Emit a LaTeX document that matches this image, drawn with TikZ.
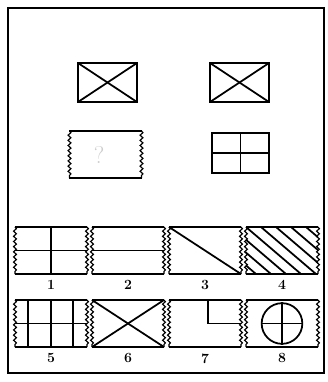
\documentclass[tikz,border=0pt]{standalone}
\usetikzlibrary{positioning, decorations.pathmorphing}
\tikzset{
  every picture/.style={line width=1.1pt},
  card/.style={minimum width=2.16cm, minimum height=1.41cm, inner sep=0pt, outer sep=0pt},
  frame/.style={draw, line width=1.9pt, inner sep=0pt, outer sep=0pt},
  rim/.style={line width=2pt},
  wavy/.style={decorate, decoration={snake, segment length=4.4pt, amplitude=1.2pt}, line width=1pt},
  stroke/.style={line width=1.5pt},
  num/.style={font=\large\bfseries, inner sep=1pt},
}
\begin{document}
\begin{tikzpicture}[x=0.03cm, y=-0.03cm]
  \useasboundingbox[fill=white] (0,0) rectangle (327,382);
  \draw[line width=1.6pt] (8,8) rectangle (324,373);
  % top pair
  \node[frame, minimum width=1.77cm, minimum height=1.17cm] (q1) at (107.5,82.5) {};
  \node[frame, minimum width=1.77cm, minimum height=1.17cm] (q2) at (239.5,82.5) {};
  \foreach \q in {q1,q2} {
    \draw[stroke] (\q.north west) -- (\q.south east);
    \draw[stroke] (\q.south west) -- (\q.north east);
  }
  % second pair
  \node[card] (q3) at (105.5,154.5) {};
  \draw[rim] (q3.north west) -- (q3.north east); \draw[rim] (q3.south west) -- (q3.south east);
  \draw[wavy] (q3.north west) -- (q3.south west); \draw[wavy] (q3.north east) -- (q3.south east);
  \node[font=\huge, text=black!20, left=-0.1cm of q3.center] (ask) {?};
  \node[frame, minimum width=1.71cm, minimum height=1.2cm] (q4) at (240.5,153) {};
  \draw[stroke] (q4.north) -- (q4.south); \draw[stroke] (q4.west) -- (q4.east);
  % answer cards
  \foreach \n/\x/\y in {1/51/250.5, 2/128/250.5, 3/205/250.5, 4/282/250.5,
                        5/51/323.5, 6/128/323.5, 7/205/323.5, 8/282/323.5} {
    \node[card] (c\n) at (\x,\y) {};
    \draw[rim] (c\n.north west) -- (c\n.north east);
    \draw[rim] (c\n.south west) -- (c\n.south east);
    \draw[wavy] (c\n.north west) -- (c\n.south west);
    \draw[wavy] (c\n.north east) -- (c\n.south east);
    \node[num, below=4pt of c\n] (l\n) {\n};
  }
  \draw[stroke] (c1.north) -- (c1.south); \draw[stroke] (c1.west) -- (c1.east);
  \draw[stroke] (c2.west) -- (c2.east);
  \draw[stroke] (c3.north west) -- (c3.south east);
  \begin{scope}
    \clip (c4.north west) rectangle (c4.south east);
    \foreach \s in {-4,...,4}
      \draw[stroke] ([xshift=\s*0.45cm]c4.north west) -- ([xshift=\s*0.45cm+1.65cm]c4.south west);
  \end{scope}
  \foreach \f in {-0.69,0,0.66}
    \draw[stroke] ([xshift=\f cm]c5.north) -- ([xshift=\f cm]c5.south);
  \draw[stroke] (c5.west) -- (c5.east);
  \draw[stroke] (c6.north west) -- (c6.south east); \draw[stroke] (c6.south west) -- (c6.north east);
  \draw[stroke] ([xshift=0.09cm]c7.north) |- (c7.east);
  \node[draw, circle, line width=1.5pt, minimum size=1.22cm, inner sep=0pt] (ring) at (c8) {};
  \draw[stroke] (ring.north) -- (ring.south); \draw[stroke] (ring.west) -- (ring.east);
\end{tikzpicture}
\end{document}
